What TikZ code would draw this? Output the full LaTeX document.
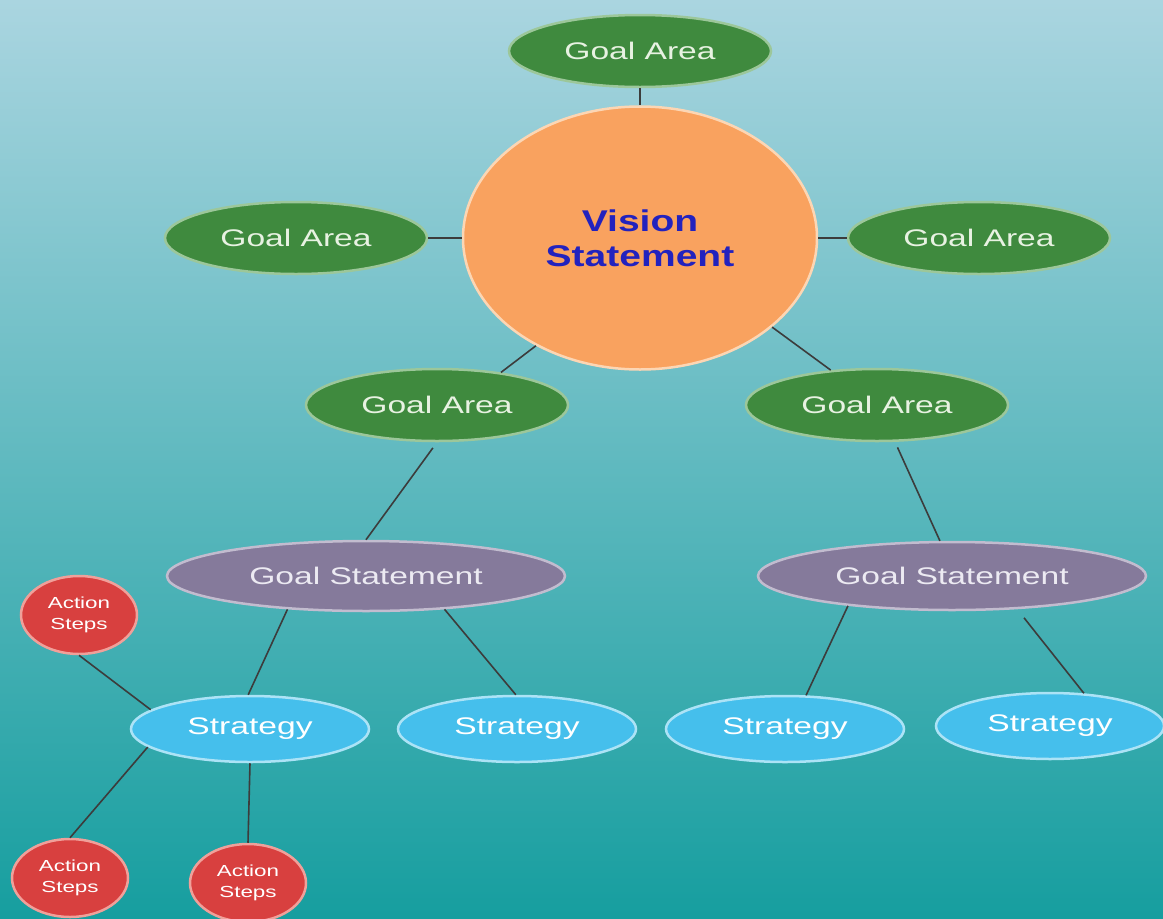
\documentclass[tikz,border=0pt]{standalone}
\usepackage{fontspec}
\usetikzlibrary{shapes.geometric}
\newfontfamily\wsans[FakeStretch=1.4]{Liberation Sans}
\newfontfamily\vsans[FakeStretch=1.3]{Liberation Sans}
\definecolor{bgtop}{HTML}{AAD5E0}
\definecolor{bgmid}{HTML}{5BBAC0}
\definecolor{bgbot}{HTML}{169E9F}
\definecolor{gafill}{HTML}{3F8A3E}
\definecolor{gaborder}{HTML}{9CC79A}
\definecolor{gatext}{HTML}{E8F2E2}
\definecolor{visfill}{HTML}{F9A25F}
\definecolor{visborder}{HTML}{FCD6B4}
\definecolor{vistext}{HTML}{2222BE}
\definecolor{gsfill}{HTML}{857A9B}
\definecolor{gsborder}{HTML}{C2BCCF}
\definecolor{gstext}{HTML}{ECEAF2}
\definecolor{stfill}{HTML}{45BFEC}
\definecolor{stborder}{HTML}{ACE3F6}
\definecolor{asfill}{HTML}{D8403F}
\definecolor{asborder}{HTML}{F0A09A}
\definecolor{linecol}{HTML}{3C3C3C}
\begin{document}
\begin{tikzpicture}[x=1pt,y=-1pt,
  base/.style={ellipse, inner sep=0pt, line width=2.5pt, align=center},
  goalarea/.style={base, fill=gafill, draw=gaborder, minimum width=262pt, minimum height=72pt,
    text=gatext, font=\wsans\fontsize{24}{28}\selectfont},
  vision/.style={base, fill=visfill, draw=visborder, minimum width=354pt, minimum height=263pt,
    text=vistext, font=\vsans\bfseries\fontsize{30}{35}\selectfont},
  goalstmt/.style={base, fill=gsfill, draw=gsborder, minimum width=398pt, minimum height=70pt,
    text=gstext, font=\wsans\fontsize{24}{28}\selectfont},
  strategy/.style={base, fill=stfill, draw=stborder, minimum width=238pt, minimum height=66pt,
    text=white, font=\wsans\fontsize{24}{28}\selectfont},
  actionsteps/.style={base, fill=asfill, draw=asborder, minimum width=116pt, minimum height=78pt,
    text=white, font=\wsans\fontsize{16}{21}\selectfont},
  link/.style={draw=linecol, line width=1.6pt}
]
\useasboundingbox (0,0) rectangle (1163,919);
\shade[top color=bgtop, middle color=bgmid, bottom color=bgbot] (0,0) rectangle (1163,919);

\node[vision] (vis) at (640,238) {Vision\\Statement};
\node[goalarea] (gaT) at (640,51) {Goal Area};
\node[goalarea] (gaL) at (296,238) {Goal Area};
\node[goalarea] (gaR) at (979,238) {Goal Area};
\node[goalarea] (gaML) at (437,405) {Goal Area};
\node[goalarea] (gaMR) at (877,405) {Goal Area};
\node[goalstmt] (gsL) at (366,576) {Goal Statement};
\node[goalstmt, minimum width=388pt, minimum height=68pt] (gsR) at (952,576) {Goal Statement};
\node[strategy] (s1) at (250,729) {Strategy};
\node[strategy] (s2) at (517,729) {Strategy};
\node[strategy] (s3) at (785,729) {Strategy};
\node[strategy, minimum width=228pt] (s4) at (1050,726) {Strategy};
\node[actionsteps] (a1) at (79,615) {Action\\Steps};
\node[actionsteps] (a2) at (70,878) {Action\\Steps};
\node[actionsteps] (a3) at (248,883) {Action\\Steps};

\draw[link] (gaT.south) -- (vis.north);
\draw[link] (gaL.east) -- (vis.west);
\draw[link] (gaR.west) -- (vis.east);
\draw[link] (vis.-134) -- (gaML.27);
\draw[link] (vis.-34) -- (gaMR.143);
\draw[link, shorten <=7pt] (gaML.south) -- (gsL.north);
\draw[link, shorten <=6pt] (gaMR.-64) -- (gsR.109);
\draw[link] (gsL.-157) -- (s1.93);
\draw[link] (gsL.-23) -- (s2.92);
\draw[link] (gsR.-164) -- (s3.58);
\draw[link, shorten <=11pt] (gsR.-27) -- (s4.44);
\draw[link] (a1.south) -- (s1.169);
\draw[link] (s1.-170) -- (a2.north);
\draw[link] (s1.south) -- (a3.north);
\end{tikzpicture}
\end{document}
